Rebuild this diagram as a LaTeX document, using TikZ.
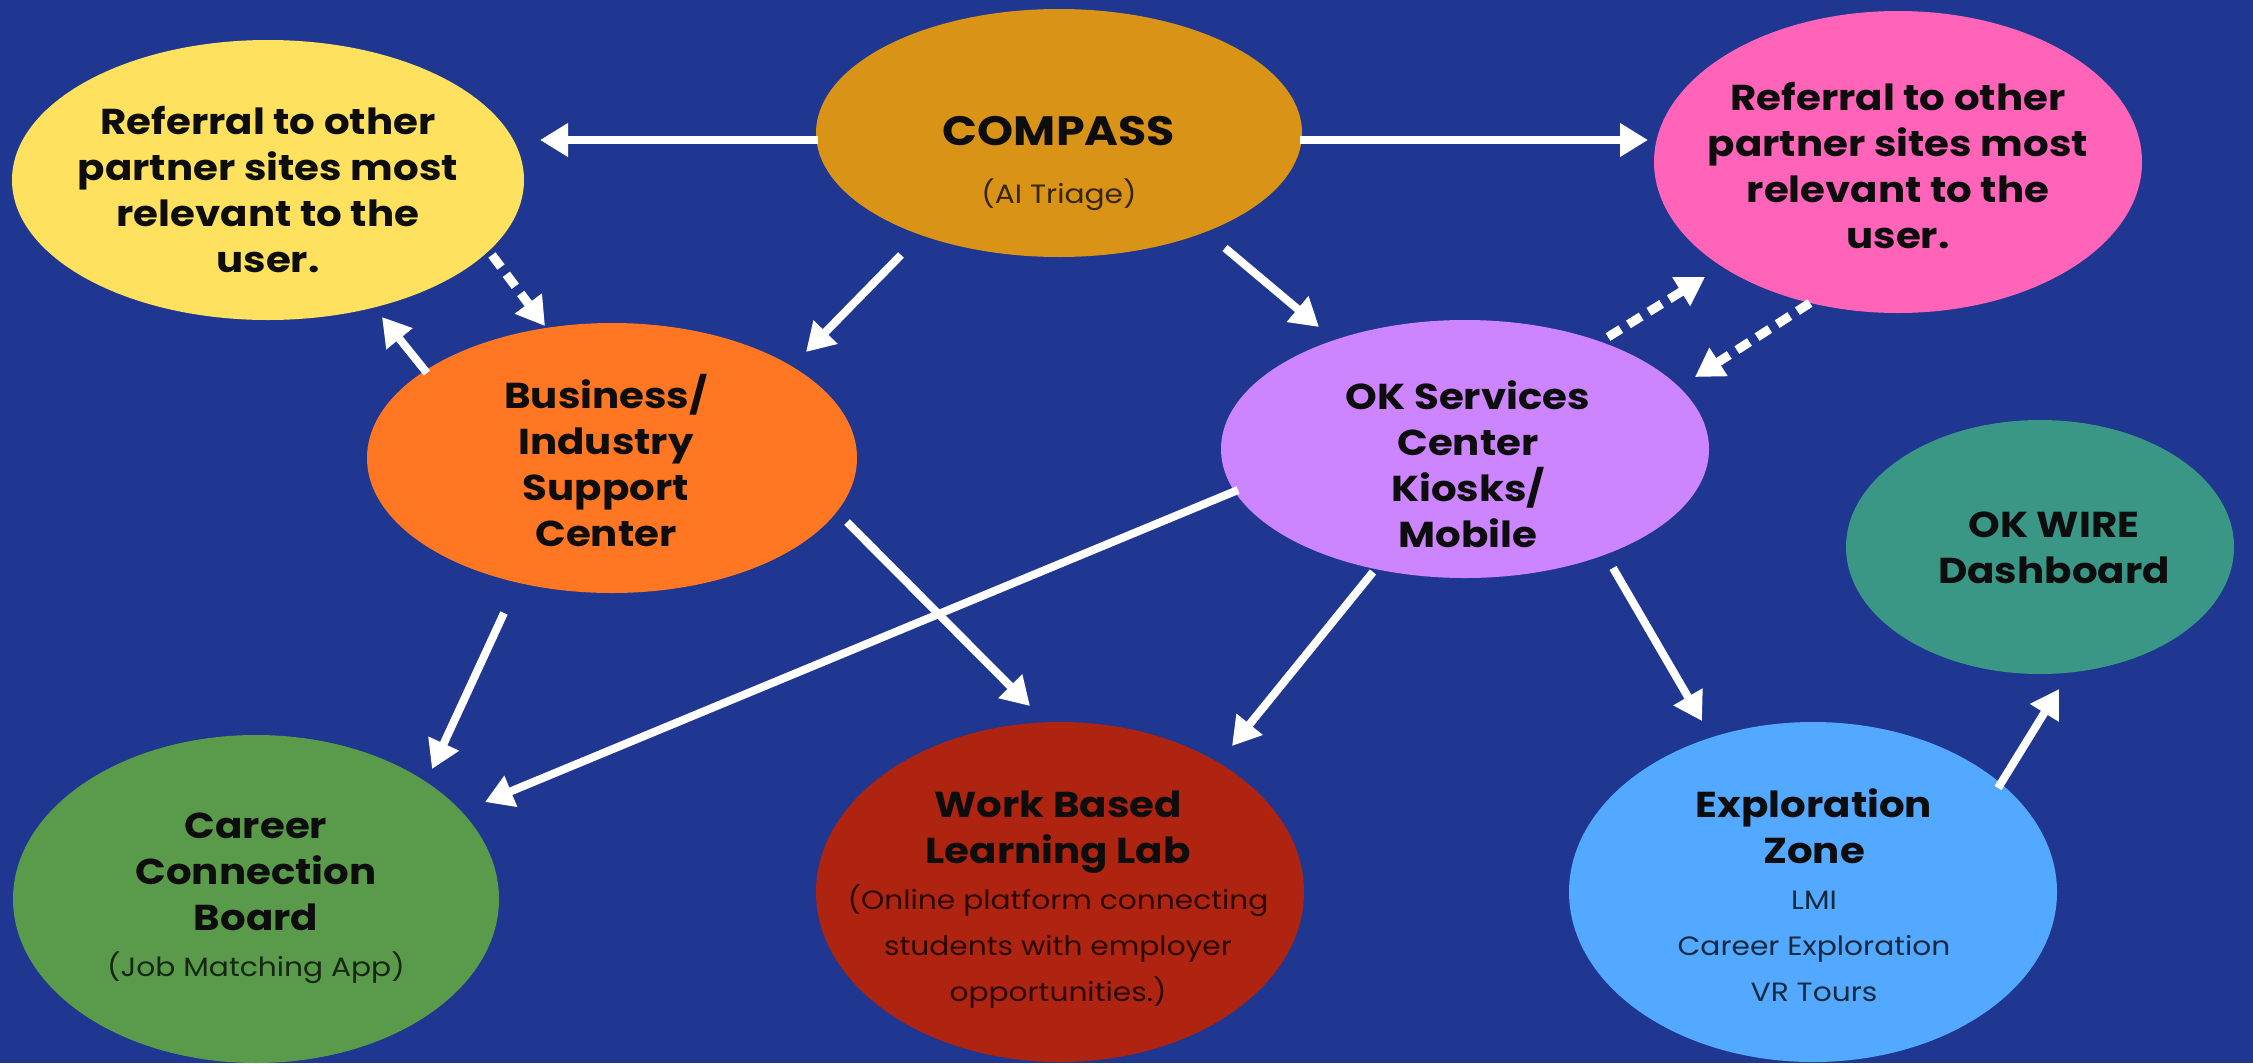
\documentclass[tikz,border=0pt]{standalone}
\usepackage{fontspec}
\setmainfont[FakeStretch=1.12]{Poppins}
\usetikzlibrary{arrows.meta,calc,shapes.geometric}

\definecolor{bg}{HTML}{1F3790}
\definecolor{cyellow}{HTML}{FDE15F}
\definecolor{ccompass}{HTML}{D99417}
\definecolor{cpink}{HTML}{FF64B9}
\definecolor{corange}{HTML}{FF7623}
\definecolor{cpurple}{HTML}{CD84FF}
\definecolor{cteal}{HTML}{3A9685}
\definecolor{cgreen}{HTML}{5A9A4B}
\definecolor{cred}{HTML}{AE2410}
\definecolor{cblue}{HTML}{53A9FF}

% one bold heading line and one plain detail line
\newcommand\boldline[1]{{\fontsize{36}{46}\selectfont\bfseries #1}}
\newcommand\plainline[2]{{\fontsize{26.5}{46}\selectfont\color{black!75!#1}#2}}

\begin{document}
\begin{tikzpicture}[x=1pt,y=-1pt,
  blob/.style={ellipse, inner sep=0pt, outer sep=0pt, draw=none},
  label/.style={align=center, inner sep=0pt, text=black!95,
    font=\fontsize{36}{46}\selectfont},
  arr/.style={draw=white, line width=8pt,
    -{Triangle[width=32pt,length=28pt]}},
  dasharr/.style={arr, line width=9pt, dash pattern=on 15pt off 9pt}]

\fill[bg] (0,0) rectangle (2253,1063);
\useasboundingbox (0,0) rectangle (2253,1063);

% shapes
\node[blob, fill=cyellow,  minimum width=512, minimum height=280] (Y)   at (268,180) {};
\node[blob, fill=ccompass, minimum width=486, minimum height=248] (CMP) at (1059,133) {};
\node[blob, fill=cpink,    minimum width=488, minimum height=302] (P)   at (1898,162) {};
\node[blob, fill=corange,  minimum width=490, minimum height=270] (B)   at (612,458) {};
\node[blob, fill=cpurple,  minimum width=488, minimum height=258] (O)   at (1465,449) {};
\node[blob, fill=cteal,    minimum width=388, minimum height=254] (T)   at (2040,547) {};
\node[blob, fill=cgreen,   minimum width=486, minimum height=328] (G)   at (256,899) {};
\node[blob, fill=cred,     minimum width=488, minimum height=340] (W)   at (1060,892) {};
\node[blob, fill=cblue,    minimum width=488, minimum height=340] (E)   at (1813,892) {};

% texts
\node[label] (Yt) at (268,190) {\boldline{Referral to other}\\\boldline{partner sites most}\\\boldline{relevant to the}\\\boldline{user.}};
\node[label] (CMPt) at (1059,163) {{\fontsize{41}{46}\selectfont\bfseries COMPASS}\\[12pt]\plainline{ccompass}{(AI Triage)}};
\node[label] (Pt) at (1898,166) {\boldline{Referral to other}\\\boldline{partner sites most}\\\boldline{relevant to the}\\\boldline{user.}};
\node[label] (Bt) at (606,461) {\boldline{Business/}\\\boldline{Industry}\\\boldline{Support}\\\boldline{Center}};
\node[label] (Ot) at (1468,464) {\boldline{OK Services}\\\boldline{Center}\\\boldline{Kiosks/}\\\boldline{Mobile}};
\node[label] (Tt) at (2054,548) {\boldline{OK WIRE}\\\boldline{Dashboard}};
\node[label] (Gt) at (256,898) {\boldline{Career}\\\boldline{Connection}\\\boldline{Board}\\\plainline{cgreen}{(Job Matching App)}};
\node[label] (Wt) at (1058,900) {\boldline{Work Based}\\\boldline{Learning Lab}\\\plainline{cred}{(Online platform connecting}\\\plainline{cred}{students with employer}\\\plainline{cred}{opportunities.)}};
\node[label] (Et) at (1814,895) {\boldline{Exploration}\\\boldline{Zone}\\\plainline{cblue}{LMI}\\\plainline{cblue}{Career Exploration}\\\plainline{cblue}{VR Tours}};

% connectors
\draw[arr] ($(CMP)+(-241,7)$) -- ($(Y)+(272,-40)$);
\draw[arr] ($(CMP)+(241,7)$) -- ($(P)+(-250,-22)$);
\draw[arr] ($(CMP)+(-158,122)$) -- ($(B)+(194,-106)$);
\draw[arr] ($(CMP)+(166,115)$) -- ($(O)+(-146,-122)$);
\draw[dasharr] ($(Y)+(224,75)$) -- ($(B)+(-67,-132)$);
\draw[arr] ($(B)+(-185,-85)$) -- ($(Y)+(114,137)$);
\draw[dasharr] ($(O)+(143,-112)$) -- ($(P)+(-193,115)$);
\draw[dasharr] ($(P)+(-88,141)$) -- ($(O)+(230,-72)$);
\draw[arr] ($(B)+(-108,155)$) -- ($(G)+(176,-130)$);
\draw[arr] ($(O)+(-227,41)$) -- ($(G)+(229,-97)$);
\draw[arr] ($(B)+(235,64)$) -- ($(W)+(-30,-186)$);
\draw[arr] ($(O)+(-92,123)$) -- ($(W)+(172,-146)$);
\draw[arr] ($(O)+(148,119)$) -- ($(E)+(-111,-171)$);
\draw[arr] ($(E)+(185,-104)$) -- ($(T)+(19,142)$);
\end{tikzpicture}
\end{document}
